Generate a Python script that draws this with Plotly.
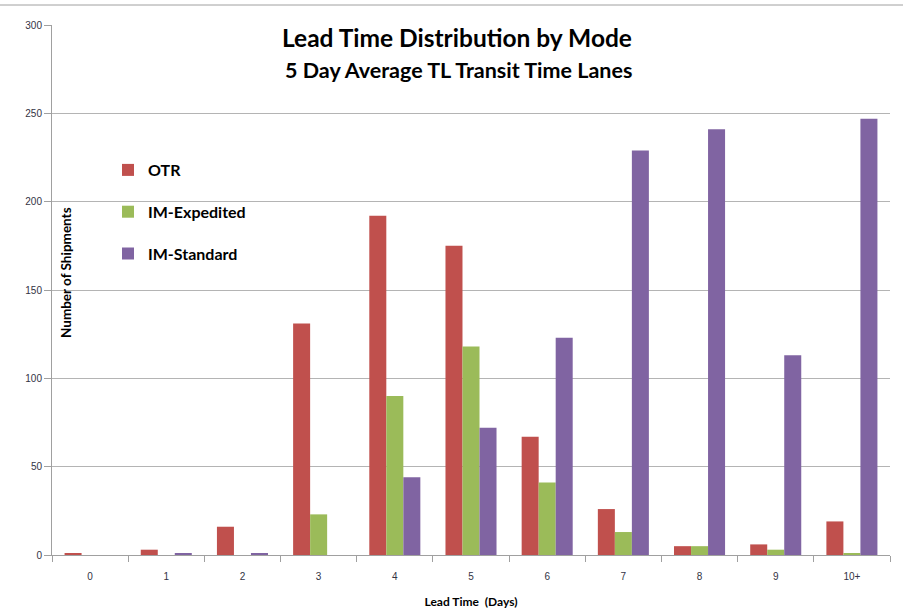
import plotly.graph_objects as go

# Lead-time buckets (days) and shipment counts per mode
lead_days = ["0", "1", "2", "3", "4", "5", "6", "7", "8", "9", "10+"]
otr = [1, 3, 16, 131, 192, 175, 67, 26, 5, 6, 19]
im_expedited = [0, 0, 0, 23, 90, 118, 41, 13, 5, 3, 1]
im_standard = [0, 1, 1, 0, 44, 72, 123, 229, 241, 113, 247]

series = [
    ("OTR", otr, "#C0504D"),
    ("IM-Expedited", im_expedited, "#9BBB59"),
    ("IM-Standard", im_standard, "#8064A2"),
]

fig = go.Figure()
for name, vals, col in series:
    fig.add_trace(go.Bar(
        x=lead_days, y=vals, name=name, legendgroup=name,
        marker=dict(color=col, line=dict(width=0)),
    ))

tick_font = dict(family="Liberation Sans, Arial, sans-serif", size=10, color="#333344")
label_family = "Lato, Open Sans, sans-serif"

# Plot area spans y 25..555 px and x 52..890 px
def paper_y(px):
    return (555 - px) / 530.0

def paper_x(px):
    return (px - 52) / 838.0

fig.update_layout(
    width=903, height=613,
    margin=dict(l=52, r=13, t=25, b=58),
    paper_bgcolor="white", plot_bgcolor="white",
    barmode="group", bargap=0.33, bargroupgap=0.0,
    showlegend=True,
    legend=dict(
        x=paper_x(108), y=paper_y(153), xanchor="left", yanchor="top",
        bgcolor="rgba(0,0,0,0)", tracegroupgap=18,
        font=dict(family=label_family, size=16, color="black", weight="bold"),
    ),
    xaxis=dict(
        type="category", showgrid=False, showline=True, linecolor="#A0A0A0", linewidth=1,
        ticks="outside", ticklen=6, tickcolor="#A0A0A0", tickson="boundaries",
        tickfont=tick_font, ticklabelstandoff=12, automargin=False,
        title=dict(text="Lead Time  (Days)", standoff=16,
                   font=dict(family=label_family, size=12, color="black", weight="bold")),
    ),
    yaxis=dict(
        range=[0, 300], dtick=50, showgrid=True, gridcolor="#B4B4B4", gridwidth=1,
        showline=True, linecolor="#A0A0A0", linewidth=1,
        ticks="outside", ticklen=7, tickcolor="#A0A0A0",
        tickfont=tick_font, zeroline=False, automargin=False,
    ),
    annotations=[
        dict(text="Lead Time Distribution by Mode", x=paper_x(457), y=paper_y(37),
             xref="paper", yref="paper", xanchor="center", yanchor="middle", showarrow=False,
             font=dict(family=label_family, size=24.5, color="black", weight="bold")),
        dict(text="5 Day Average TL Transit Time Lanes", x=paper_x(458), y=paper_y(70),
             xref="paper", yref="paper", xanchor="center", yanchor="middle", showarrow=False,
             font=dict(family=label_family, size=21.5, color="black", weight="bold")),
        dict(text="Number of Shipments", textangle=-90, x=paper_x(66), y=paper_y(273),
             xref="paper", yref="paper", xanchor="center", yanchor="middle", showarrow=False,
             font=dict(family=label_family, size=13.5, color="black", weight="bold")),
    ],
    shapes=[
        dict(type="line", xref="paper", yref="paper",
             x0=paper_x(0), x1=paper_x(903), y0=paper_y(5), y1=paper_y(5),
             line=dict(color="#A0A0A0", width=1)),
    ],
)

fig.write_html("out.html")
